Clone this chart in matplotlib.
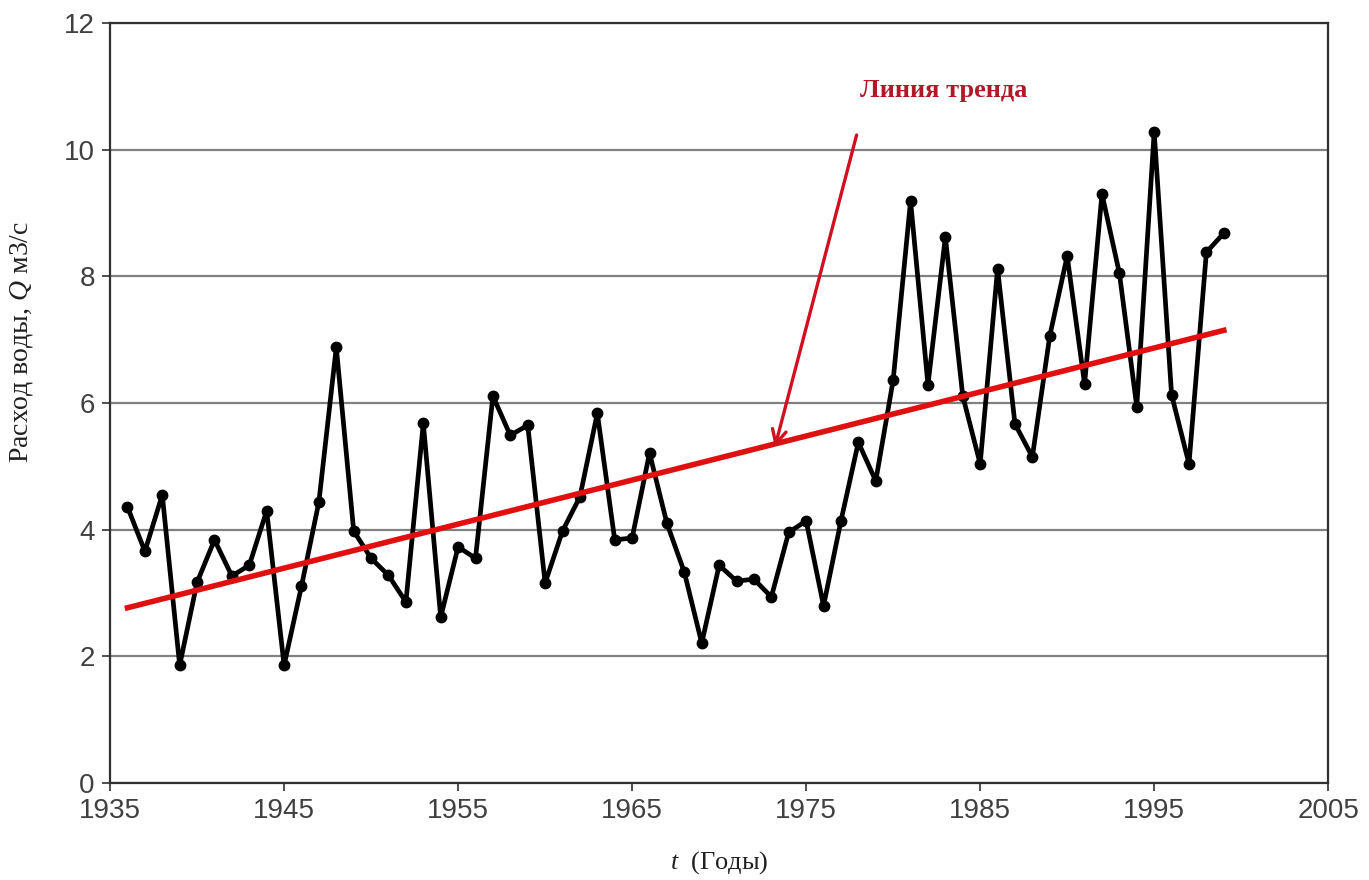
import numpy as np
import matplotlib
matplotlib.use("Agg")
import matplotlib.pyplot as plt

years = list(range(1936, 2000))
flow = [
    4.36, 3.66, 4.55, 1.86, 3.17, 3.84, 3.27, 3.44, 4.30, 1.86,
    3.11, 4.44, 6.88, 3.98, 3.55, 3.28, 2.86, 5.68, 2.62, 3.73,
    3.55, 6.11, 5.49, 5.65, 3.16, 3.98, 4.52, 5.84, 3.84, 3.87,
    5.21, 4.10, 3.33, 2.21, 3.44, 3.19, 3.22, 2.94, 3.96, 4.14,
    2.80, 4.14, 5.38, 4.77, 6.36, 9.19, 6.29, 8.62, 6.11, 5.04,
    8.12, 5.67, 5.15, 7.06, 8.32, 6.30, 9.30, 8.05, 5.94, 10.28,
    6.13, 5.04, 8.38, 8.68,
]
x_ticks = [1935, 1945, 1955, 1965, 1975, 1985, 1995, 2005]
y_ticks = [0, 2, 4, 6, 8, 10, 12]

plt.rcParams["mathtext.fontset"] = "custom"
plt.rcParams["mathtext.it"] = "Liberation Serif:italic"
plt.rcParams["mathtext.rm"] = "Liberation Serif"

fig = plt.figure(figsize=(13.69, 8.8), dpi=100)
ax = fig.add_axes([0.0804, 0.110, 0.8898, 0.864])

ax.set_xlim(1935, 2005)
ax.set_ylim(0, 12)
ax.set_xticks(x_ticks)
ax.set_yticks(y_ticks)
ax.yaxis.grid(True, color="#808080", linewidth=1.6)
ax.set_axisbelow(True)

for side in ax.spines.values():
    side.set_color("#303030")
    side.set_linewidth(1.6)

ax.tick_params(direction="out", length=6, width=1.2, color="#303030",
               labelsize=20, labelcolor="#404040", pad=5)
for lbl in ax.get_xticklabels() + ax.get_yticklabels():
    lbl.set_family("Liberation Sans")

# data series
ax.plot(years, flow, color="black", linewidth=3.4, marker="o",
        markersize=7.5, zorder=3)

# linear trend
coef = np.polyfit(years, flow, 1)
yr = np.array([years[0], years[-1]])
ax.plot(yr, np.polyval(coef, yr), color="#e01010", linewidth=4, zorder=4)

ax.annotate("", xy=(1973.2, 5.3), xytext=(1977.9, 10.23),
            arrowprops=dict(arrowstyle="->", color="#d01020", lw=2.4,
                            mutation_scale=25, shrinkA=0, shrinkB=0),
            zorder=5)
ax.text(1982.9, 10.94, "Линия тренда", color="#b01a28", fontsize=19,
        fontweight="bold", family="Liberation Serif", ha="center", va="center")

ax.set_ylabel("Расход воды, $Q$ м3/с", family="Liberation Serif",
              fontsize=20, color="#202020")
ax.yaxis.set_label_coords(-0.062, 0.58)
ax.set_xlabel("$t$  (Годы)", family="Liberation Serif",
              fontsize=19, color="#202020", labelpad=18)

fig.savefig("out.png", dpi=100, facecolor="white")
